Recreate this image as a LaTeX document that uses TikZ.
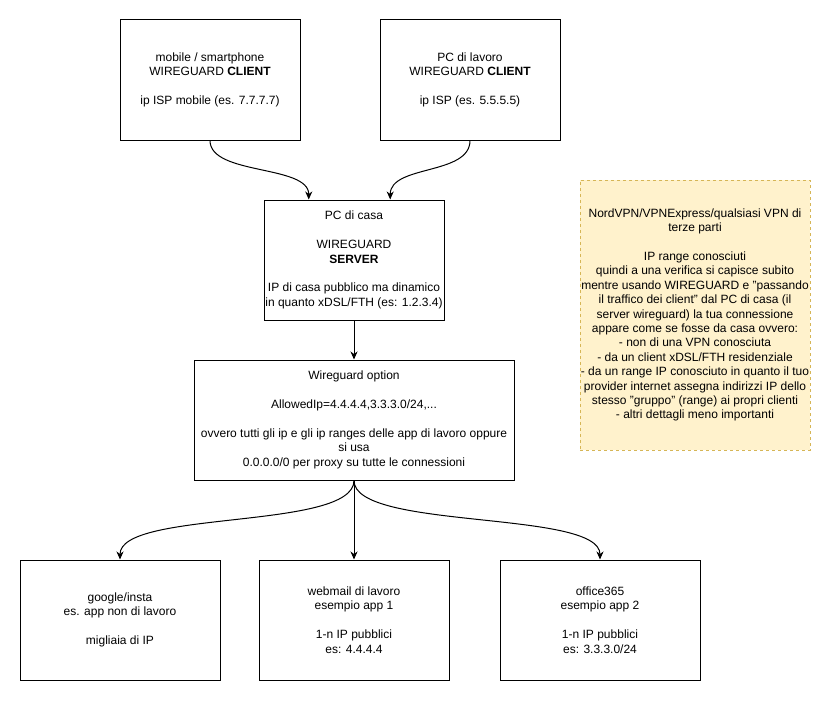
\documentclass[tikz,border=0pt]{standalone}
\usepackage{fontspec}
\setmainfont{Liberation Sans}
\usetikzlibrary{arrows.meta, calc}
\definecolor{notafill}{HTML}{FFF2CC}
\definecolor{notadraw}{HTML}{D6B656}
\tikzset{
  blocco/.style = {draw=black, fill=white, line width=1pt, align=center,
    inner sep=0pt, font=\fontsize{12}{14.4}\selectfont},
  nota/.style = {blocco, draw=notadraw, fill=notafill,
    dash pattern=on 3pt off 3pt},
  freccia/.style = {-{Stealth[length=8pt, width=7pt, inset=2.5pt]},
    line width=1pt}
}

\begin{document}
\begin{tikzpicture}[x=1pt, y=-1pt]
  \path[fill=white, use as bounding box] (0,0) rectangle (831,701);

  \node [blocco, minimum width=180, minimum height=120] (mobile) at (210,80)
    {mobile / smartphone\\ WIREGUARD \textbf{CLIENT}\\ ~\\ ip ISP mobile (es. 7.7.7.7)};
  \node [blocco, minimum width=180, minimum height=120] (lavoro) at (470,80)
    {PC di lavoro\\ WIREGUARD \textbf{CLIENT}\\ ~\\ ip ISP (es. 5.5.5.5)};
  \node [blocco, minimum width=180, minimum height=120] (casa) at (354,260)
    {PC di casa\\ ~\\ WIREGUARD\\ \textbf{SERVER}\\ ~\\ IP di casa pubblico ma dinamico\\ in quanto xDSL/FTH (es: 1.2.3.4)};
  \node [blocco, minimum width=320, minimum height=120] (opzione) at (354,420)
    {Wireguard option\\ ~\\ AllowedIp=4.4.4.4,3.3.3.0/24,...\\ ~\\ ovvero tutti gli ip e gli ip ranges delle app di lavoro oppure\\ si usa\\ 0.0.0.0/0 per proxy su tutte le connessioni};
  \node [nota, minimum width=230, minimum height=270] (vpn) at (695,315)
    {NordVPN/VPNExpress/qualsiasi VPN di\\ terze parti\\ ~\\ IP range conosciuti\\
     quindi a una verifica si capisce subito\\ mentre usando WIREGUARD e "passando\\
     il traffico dei client" dal PC di casa (il\\ server wireguard) la tua connessione\\
     appare come se fosse da casa ovvero:\\ - non di una VPN conosciuta\\
     - da un client xDSL/FTH residenziale\\ - da un range IP conosciuto in quanto il tuo\\
     provider internet assegna indirizzi IP dello\\ stesso "gruppo" (range) ai propri clienti\\
     - altri dettagli meno importanti};
  \node [blocco, minimum width=200, minimum height=120] (google) at (120,620)
    {google/insta\\ es. app non di lavoro\\ ~\\ migliaia di IP};
  \node [blocco, minimum width=190, minimum height=120] (webmail) at (354,620)
    {webmail di lavoro\\ esempio app 1\\ ~\\ 1-n IP pubblici\\ es: 4.4.4.4};
  \node [blocco, minimum width=200, minimum height=120] (office) at (600,620)
    {office365\\ esempio app 2\\ ~\\ 1-n IP pubblici\\ es: 3.3.3.0/24};

  \coordinate (casaA) at ($(casa.north west)!0.25!(casa.north east)$);
  \coordinate (casaB) at ($(casa.north west)!0.7!(casa.north east)$);

  \draw [freccia] (mobile.south) .. controls +(0,35) and +(0,-35) .. (casaA);
  \draw [freccia] (lavoro.south) .. controls +(0,35) and +(0,-35) .. (casaB);
  \draw [freccia] (casa.south) -- (opzione.north);
  \draw [freccia] (opzione.south) .. controls +(0,50) and +(0,-50) .. (google.north);
  \draw [freccia] (opzione.south) -- (webmail.north);
  \draw [freccia] (opzione.south) .. controls +(0,50) and +(0,-50) .. (office.north);
\end{tikzpicture}
\end{document}
